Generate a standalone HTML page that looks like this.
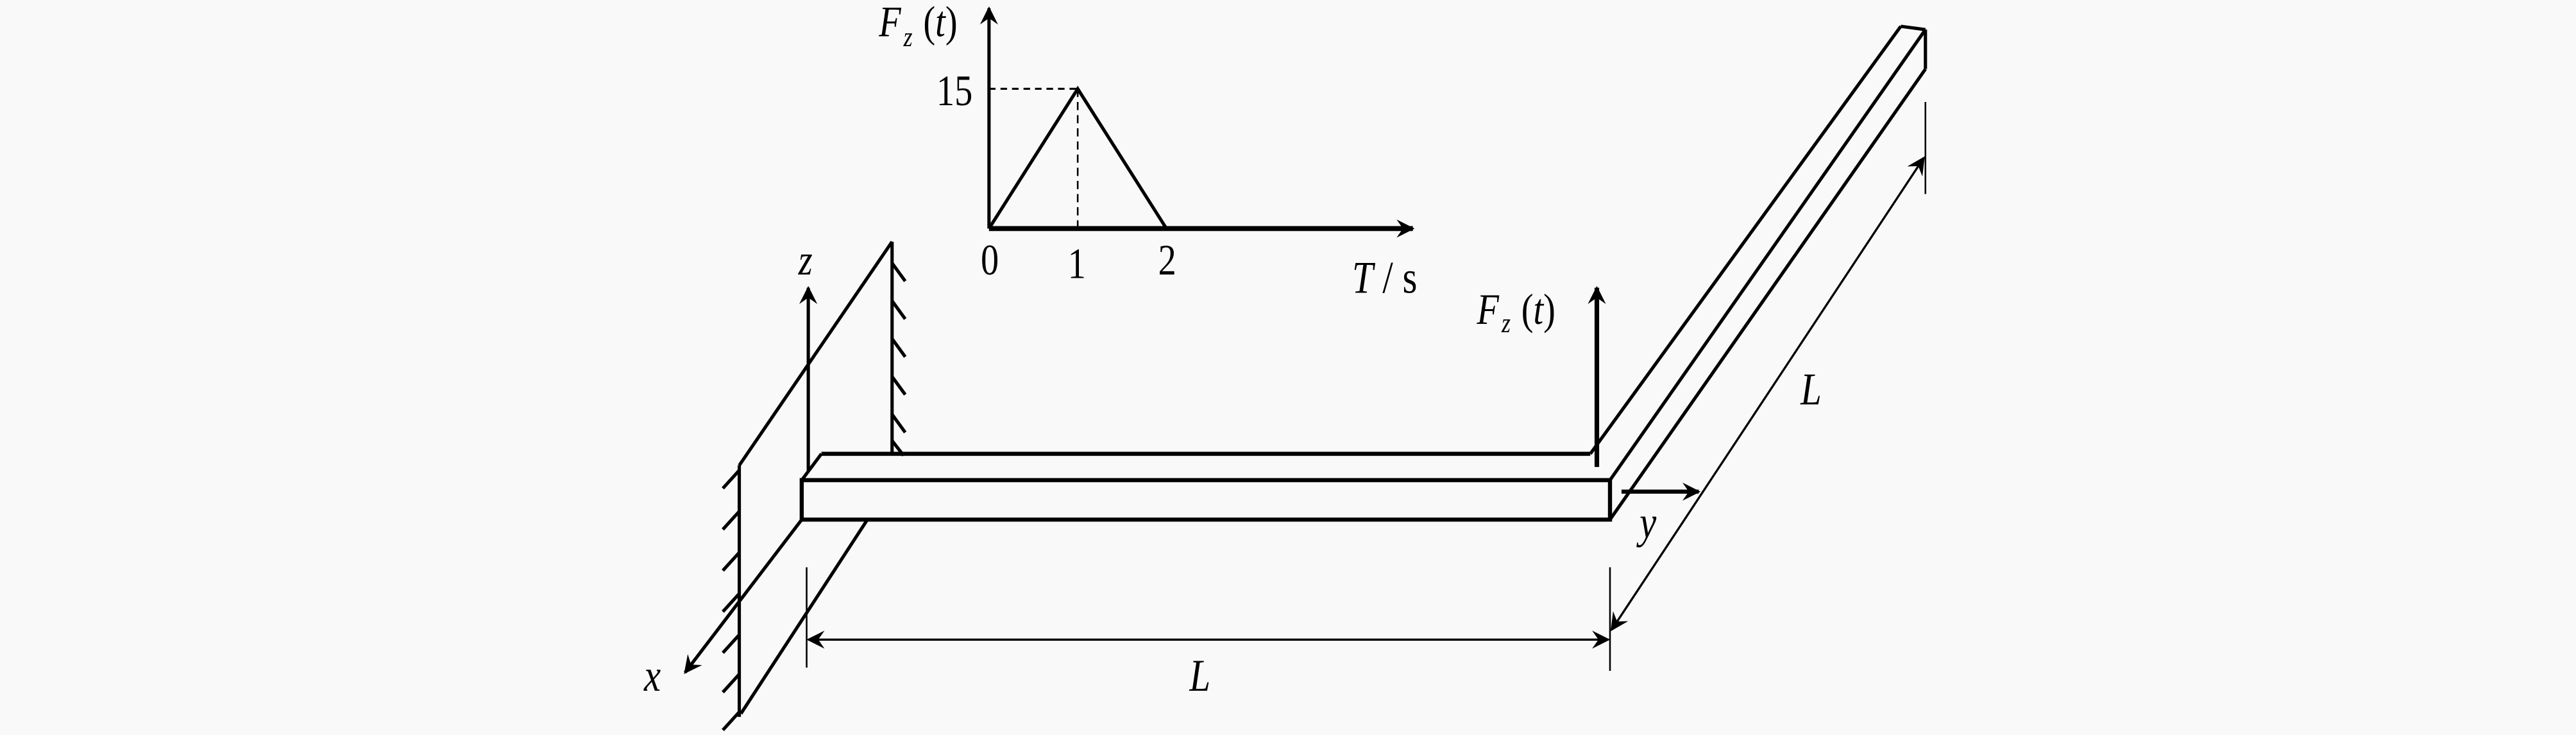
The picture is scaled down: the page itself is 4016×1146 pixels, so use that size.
<!DOCTYPE html>
<html><head><meta charset="utf-8"><style>
html,body{margin:0;padding:0;background:#f9f9f9;}
svg{display:block;}
text{font-family:"Liberation Serif",serif;fill:#000;}
.i{font-style:italic;}
</style></head><body>
<svg width="4016" height="1146" viewBox="0 0 1568 447" preserveAspectRatio="none" xmlns="http://www.w3.org/2000/svg">
<defs>
<marker id="b" viewBox="0 0 10 10" refX="9" refY="5" markerWidth="16" markerHeight="11" orient="auto-start-reverse" markerUnits="userSpaceOnUse">
<path d="M0,0 L10,5 L0,10 L3.5,5 z" fill="#000"/></marker>
</defs>
<rect width="1568" height="447" fill="#f9f9f9"/>
<g stroke="#000" fill="none" stroke-width="2">
<line x1="602" y1="139" x2="602" y2="5" marker-end="url(#b)"/>
<line x1="602" y1="139" x2="860" y2="139" stroke-width="3" marker-end="url(#b)"/>
<polyline points="602,139 656,54 710,139"/>
<line x1="602" y1="54" x2="656" y2="54" stroke-width="1.2" stroke-dasharray="4,3"/>
<line x1="656" y1="54" x2="656" y2="139" stroke-width="1" stroke-dasharray="5,3"/>
<line x1="450" y1="283" x2="543" y2="147"/>
<line x1="543" y1="147" x2="543" y2="276"/>
<line x1="450" y1="283" x2="450" y2="436"/>
<line x1="528" y1="316" x2="451" y2="434"/>
<g stroke-width="2">
<line x1="543" y1="160" x2="551" y2="171"/><line x1="543" y1="183" x2="551" y2="194"/>
<line x1="543" y1="206" x2="551" y2="217"/><line x1="543" y1="229" x2="551" y2="240"/>
<line x1="543" y1="252" x2="551" y2="263"/><line x1="543" y1="268" x2="550" y2="277"/>
<line x1="450" y1="286" x2="440" y2="297"/><line x1="450" y1="311" x2="440" y2="322"/>
<line x1="450" y1="336" x2="440" y2="347"/><line x1="450" y1="361" x2="440" y2="372"/>
<line x1="450" y1="386" x2="440" y2="397"/><line x1="450" y1="410" x2="440" y2="421"/>
<line x1="450" y1="433" x2="440" y2="444"/>
</g>
<rect x="488" y="292" width="492" height="24" stroke-width="2.5"/>
<line x1="500" y1="276" x2="968" y2="276" stroke-width="2.5"/>
<line x1="488" y1="292" x2="500" y2="276"/>
<line x1="968" y1="276" x2="1157" y2="16"/>
<line x1="980" y1="292" x2="1172" y2="18"/>
<line x1="980" y1="316" x2="1172" y2="42"/>
<line x1="1157" y1="16" x2="1172" y2="18"/>
<line x1="1172" y1="18" x2="1172" y2="42"/>
<line x1="492" y1="286" x2="492" y2="175" marker-end="url(#b)"/>
<line x1="488" y1="316" x2="417" y2="409" marker-end="url(#b)"/>
<line x1="972" y1="284" x2="972" y2="175" stroke-width="2.8" marker-end="url(#b)"/>
<line x1="987" y1="299" x2="1034" y2="299" stroke-width="2.5" marker-end="url(#b)"/>
<g stroke-width="1">
<line x1="491" y1="345" x2="491" y2="406"/>
<line x1="980" y1="345" x2="980" y2="408"/>
<line x1="492" y1="389" x2="979" y2="389" stroke-width="1.3" marker-start="url(#b)" marker-end="url(#b)"/>
<line x1="1172" y1="62" x2="1172" y2="118"/>
<line x1="981" y1="383" x2="1171" y2="96" stroke-width="1.3" marker-start="url(#b)" marker-end="url(#b)"/>
</g>
</g>
<g transform="scale(1,1)">
<text transform="translate(535,22) scale(1,1.2)" font-size="22" class="i">F</text>
<text transform="translate(550,28) scale(1,1.2)" font-size="14" class="i">z</text>
<text transform="translate(562,22) scale(1,1.2)" font-size="22">(<tspan class="i">t</tspan>)</text>
<text transform="translate(570,64) scale(1,1.2)" font-size="22">15</text>
<text transform="translate(597,167) scale(1,1.2)" font-size="22">0</text>
<text transform="translate(650,169) scale(1,1.2)" font-size="22">1</text>
<text transform="translate(705,167) scale(1,1.2)" font-size="22">2</text>
<text transform="translate(823,178) scale(1,1.2)" font-size="23"><tspan class="i">T</tspan> / s</text>
<text transform="translate(486,167) scale(1,1.2)" font-size="22" class="i">z</text>
<text transform="translate(899,197) scale(1,1.2)" font-size="22" class="i">F</text>
<text transform="translate(914,202) scale(1,1.2)" font-size="14" class="i">z</text>
<text transform="translate(926,197) scale(1,1.2)" font-size="22">(<tspan class="i">t</tspan>)</text>
<text transform="translate(998,327) scale(1,1.2)" font-size="23" class="i">y</text>
<text transform="translate(392,420) scale(1,1.2)" font-size="23" class="i">x</text>
<text transform="translate(724,420) scale(1,1.2)" font-size="23" class="i">L</text>
<text transform="translate(1096,246) scale(1,1.2)" font-size="23" class="i">L</text>
</g>
</svg>
</body></html>
